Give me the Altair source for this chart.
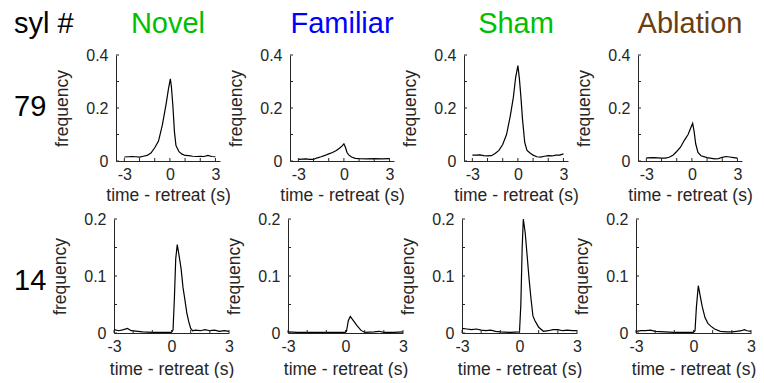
import altair as alt
import pandas as pd

FONT = "Liberation Sans"
AX = "#262626"

conditions = ["Novel", "Familiar", "Sham", "Ablation"]
condition_colors = ["#00bf00", "#0000ff", "#00bf00", "#6b3d12"]
syllables = ["79", "14"]
row_header = "syl #"
x_title = "time - retreat (s)"
y_title = "frequency"

# ---- syllable 79 ----
t_79_novel = [-3, -2.75, -2.5, -2.25, -2, -1.75, -1.5, -1.25, -1, -0.75, -0.5, -0.25, -0.1, 0.03, 0.1, 0.2, 0.3, 0.4, 0.6, 0.8, 1, 1.25, 1.5, 1.75, 2, 2.25, 2.5, 2.75, 3]
f_79_novel = [0.015, 0.016, 0.017, 0.016, 0.015, 0.018, 0.021, 0.03, 0.05, 0.075, 0.135, 0.215, 0.27, 0.31, 0.28, 0.205, 0.11, 0.058, 0.035, 0.026, 0.021, 0.02, 0.018, 0.017, 0.018, 0.017, 0.021, 0.017, 0.016]

t_79_familiar = [-3, -2.75, -2.5, -2.25, -2, -1.75, -1.5, -1.25, -1, -0.75, -0.5, -0.25, -0.1, 0, 0.1, 0.2, 0.3, 0.5, 0.75, 1, 1.5, 2, 2.5, 3]
f_79_familiar = [0.006, 0.007, 0.008, 0.006, 0.006, 0.012, 0.016, 0.021, 0.027, 0.032, 0.04, 0.05, 0.058, 0.065, 0.052, 0.033, 0.024, 0.015, 0.01, 0.009, 0.008, 0.009, 0.008, 0.009]

t_79_sham = [-3, -2.75, -2.5, -2.25, -2, -1.75, -1.5, -1.25, -1, -0.75, -0.5, -0.3, -0.15, 0, 0.1, 0.2, 0.3, 0.45, 0.6, 0.8, 1, 1.25, 1.5, 1.75, 2, 2.25, 2.5, 2.75, 3]
f_79_sham = [0.022, 0.022, 0.023, 0.02, 0.019, 0.02, 0.028, 0.04, 0.062, 0.1, 0.17, 0.24, 0.315, 0.36, 0.31, 0.24, 0.16, 0.07, 0.04, 0.03, 0.022, 0.016, 0.015, 0.018, 0.02, 0.019, 0.022, 0.022, 0.027]

t_79_ablation = [-3, -2.5, -2, -1.75, -1.5, -1.25, -1, -0.75, -0.5, -0.25, -0.1, 0.05, 0.15, 0.25, 0.4, 0.6, 1, 1.5, 1.75, 2, 2.25, 2.5, 2.75, 3]
f_79_ablation = [0.012, 0.013, 0.011, 0.011, 0.014, 0.022, 0.036, 0.052, 0.078, 0.1, 0.122, 0.142, 0.11, 0.065, 0.032, 0.02, 0.013, 0.008, 0.009, 0.014, 0.017, 0.015, 0.013, 0.011]

# ---- syllable 14 ----
t_14_novel = [-3, -2.75, -2.5, -2.3, -2.1, -1.75, -1.5, -1, -0.5, 0, 0.08, 0.15, 0.22, 0.3, 0.4, 0.5, 0.6, 0.7, 0.8, 0.9, 1.0, 1.1, 1.25, 1.5, 1.75, 2, 2.25, 2.5, 2.75, 3]
f_14_novel = [0.006, 0.004, 0.006, 0.008, 0.004, 0.003, 0.002, 0.001, 0.001, 0.001, 0.005, 0.06, 0.13, 0.155, 0.135, 0.113, 0.08, 0.058, 0.035, 0.02, 0.008, 0.004, 0.005, 0.004, 0.006, 0.004, 0.005, 0.003, 0.004, 0.003]

t_14_familiar = [-3, -2.5, -2, -1.5, -1, -0.5, 0, 0.05, 0.15, 0.25, 0.4, 0.6, 0.8, 1.0, 1.5, 1.75, 2, 2.5, 3]
f_14_familiar = [0.002, 0.001, 0.001, 0.001, 0.001, 0.001, 0.001, 0.003, 0.022, 0.029, 0.022, 0.013, 0.005, 0.001, 0.002, 0.003, 0.001, 0.001, 0.002]

t_14_sham = [-3, -2.75, -2.5, -2.25, -2, -1.75, -1.5, -1.25, -1, -0.5, 0, 0.07, 0.14, 0.2, 0.3, 0.4, 0.5, 0.6, 0.7, 0.8, 0.9, 1.0, 1.25, 1.5, 1.75, 2, 2.25, 2.5, 2.75, 3]
f_14_sham = [0.008, 0.007, 0.006, 0.007, 0.005, 0.004, 0.005, 0.003, 0.002, 0.001, 0.002, 0.05, 0.15, 0.2, 0.175, 0.135, 0.095, 0.06, 0.03, 0.022, 0.016, 0.01, 0.003, 0.004, 0.006, 0.006, 0.004, 0.005, 0.004, 0.004]

t_14_ablation = [-3, -2.75, -2.5, -2.25, -2, -1.5, -1, -0.5, 0, 0.08, 0.15, 0.25, 0.35, 0.45, 0.6, 0.75, 0.9, 1.1, 1.4, 1.75, 2, 2.25, 2.5, 2.65, 2.8, 3]
f_14_ablation = [0.003, 0.004, 0.004, 0.005, 0.003, 0.002, 0.001, 0.001, 0.001, 0.004, 0.045, 0.083, 0.065, 0.047, 0.027, 0.017, 0.012, 0.007, 0.003, 0.002, 0.002, 0.003, 0.004, 0.006, 0.004, 0.003]

x_ticks = [-3, -2, -1, 0, 1, 2, 3]
x_labels = [-3, 0, 3]
y_ticks_79 = [0, 0.1, 0.2, 0.3, 0.4]
y_labels_79 = [0, 0.2, 0.4]
y_ticks_14 = [0, 0.05, 0.1, 0.15, 0.2]
y_labels_14 = [0, 0.1, 0.2]

rows = [
    dict(series=[(t_79_novel, f_79_novel), (t_79_familiar, f_79_familiar),
                 (t_79_sham, f_79_sham), (t_79_ablation, f_79_ablation)],
         xdom=[-3.55, 3.3], ydom=[0, 0.4], yticks=y_ticks_79, ylabels=y_labels_79,
         w=104, h=106, spacing=70, label_w=32, label_y=52, xlab_pad=5, xtitle_pad=4),
    dict(series=[(t_14_novel, f_14_novel), (t_14_familiar, f_14_familiar),
                 (t_14_sham, f_14_sham), (t_14_ablation, f_14_ablation)],
         xdom=[-3, 3], ydom=[0, 0.2], yticks=y_ticks_14, ylabels=y_labels_14,
         w=115, h=114, spacing=59, label_w=41, label_y=62, xlab_pad=5, xtitle_pad=6),
]

TITLE_SIZE = 29
TITLE_OFFSET = 14
TITLE_DY = 29


def panel(t, f, r, title=None, color=None):
    w, h = r["w"], r["h"]
    X = alt.X("t:Q", scale=alt.Scale(domain=r["xdom"], nice=False, zero=False),
              axis=alt.Axis(values=x_labels, title=x_title, labelExpr="'' + datum.value",
                            labelFlush=False, labelPadding=r["xlab_pad"],
                            titlePadding=r["xtitle_pad"]))
    Y = alt.Y("f:Q", scale=alt.Scale(domain=r["ydom"], nice=False, zero=False),
              axis=alt.Axis(values=r["ylabels"], title=y_title, labelExpr="'' + datum.value",
                            labelPadding=8, titlePadding=14))
    line = alt.Chart(pd.DataFrame({"t": t, "f": f})).mark_line(
        color="black", strokeWidth=1.2).encode(x=X, y=Y)
    xt = alt.Chart(pd.DataFrame({"t": x_ticks})).mark_rule(color=AX, strokeWidth=1).encode(
        x=X, y=alt.value(h), y2=alt.value(h - 3))
    yt = alt.Chart(pd.DataFrame({"f": r["yticks"]})).mark_rule(color=AX, strokeWidth=1).encode(
        y=Y, x=alt.value(0), x2=alt.value(3))
    ch = alt.layer(line, xt, yt).properties(width=w, height=h)
    if title is not None:
        ch = ch.properties(title=alt.TitleParams(
            title, color=color, fontSize=TITLE_SIZE, font=FONT, fontWeight="normal",
            baseline="alphabetic", offset=TITLE_OFFSET, dy=TITLE_DY))
    return ch


row_charts = []
for i, r in enumerate(rows):
    lab = alt.Chart(pd.DataFrame({"s": [syllables[i]]})).mark_text(
        align="left", baseline="middle", fontSize=TITLE_SIZE, font=FONT, color="black"
    ).encode(text="s:N", x=alt.value(0), y=alt.value(r["label_y"])).properties(
        width=r["label_w"], height=r["h"])
    if i == 0:
        lab = lab.properties(title=alt.TitleParams(
            row_header, color="black", fontSize=TITLE_SIZE, font=FONT, fontWeight="normal",
            baseline="alphabetic", anchor="start", offset=TITLE_OFFSET + 8, dy=TITLE_DY))
    panels = [lab]
    for j, (t, f) in enumerate(r["series"]):
        if i == 0:
            panels.append(panel(t, f, r, conditions[j], condition_colors[j]))
        else:
            panels.append(panel(t, f, r))
    row_charts.append(alt.hconcat(*panels, spacing=r["spacing"], bounds="flush"))

chart = alt.vconcat(*row_charts, spacing=7).properties(
    padding={"left": 6, "top": 2, "right": 0, "bottom": 0}
).configure(font=FONT).configure_view(stroke=None).configure_axis(
    domainColor=AX, domainWidth=1, labelColor=AX, titleColor=AX,
    labelFontSize=16, titleFontSize=17.5, labelFont=FONT, titleFont=FONT,
    titleFontWeight="normal", ticks=False, tickSize=0, grid=False,
)

chart.save("out.html", embed_options={"renderer": "svg", "actions": False})
